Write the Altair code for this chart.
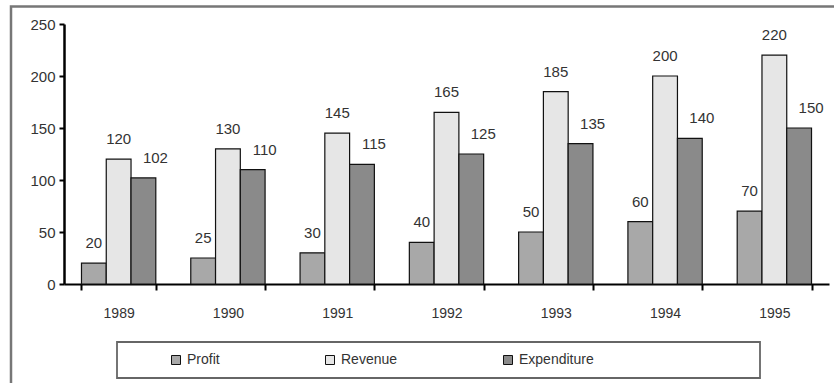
import altair as alt
import pandas as pd

years = ["1989", "1990", "1991", "1992", "1993", "1994", "1995"]
profit = [20, 25, 30, 40, 50, 60, 70]
revenue = [120, 130, 145, 165, 185, 200, 220]
expenditure = [102, 110, 115, 125, 135, 140, 150]
series = ["Profit", "Revenue", "Expenditure"]
colors = ["#a8a8a8", "#e6e6e6", "#8a8a8a"]
y_ticks = [0, 50, 100, 150, 200, 250]

rows = []
for i, yr in enumerate(years):
    for s, vals in zip(series, [profit, revenue, expenditure]):
        rows.append({"year": yr, "series": s, "value": vals[i]})
df = pd.DataFrame(rows)

FONT = "Liberation Sans"
TXT = "#333333"

x = alt.X(
    "year:N",
    sort=years,
    scale=alt.Scale(paddingInner=0.32, paddingOuter=0.16),
    axis=alt.Axis(
        title=None, labelAngle=0, tickBand="extent", tickSize=6, tickWidth=2,
        tickColor="black", domainColor="black", domainWidth=2,
        labelPadding=16, labelFont=FONT, labelFontSize=14, labelColor=TXT,
    ),
)
xo = alt.XOffset("series:N", sort=series, scale=alt.Scale(paddingInner=0, paddingOuter=0))
y = alt.Y(
    "value:Q",
    scale=alt.Scale(domain=[0, 250], nice=False),
    axis=alt.Axis(
        title=None, values=y_ticks, grid=False, tickSize=5, tickWidth=2,
        tickColor="black", domainColor="black", domainWidth=2.5,
        labelPadding=4, labelFont=FONT, labelFontSize=15, labelColor=TXT,
    ),
)
color = alt.Color(
    "series:N",
    sort=series,
    scale=alt.Scale(domain=series, range=colors),
    legend=alt.Legend(
        title=None, orient="none", legendX=105, legendY=329,
        direction="horizontal", columns=3, columnPadding=103,
        symbolType="square", symbolSize=81, symbolStrokeColor="#111",
        symbolStrokeWidth=1, labelFont=FONT, labelFontSize=14,
        labelColor=TXT, labelOffset=4,
    ),
)

base = alt.Chart(df)

bars = base.mark_bar(stroke="#111111", strokeWidth=1.2).encode(
    x=x, xOffset=xo, y=y, color=color
)

text_pr = base.transform_filter(
    alt.FieldOneOfPredicate(field="series", oneOf=["Profit", "Revenue"])
).mark_text(dy=-15, baseline="alphabetic", fontSize=15, font=FONT, color=TXT).encode(
    x=x, xOffset=xo, y=y, text="value:Q"
)
text_ex = base.transform_filter(
    alt.FieldEqualPredicate(field="series", equal="Expenditure")
).mark_text(dx=12, dy=-15, baseline="alphabetic", fontSize=15, font=FONT, color=TXT).encode(
    x=x, xOffset=xo, y=y, text="value:Q"
)

frame_df = pd.DataFrame({"k": [0]})
outer = alt.Chart(frame_df).mark_rect(filled=False, stroke="#777777", strokeWidth=2.5).encode(
    x=alt.value(-53), x2=alt.value(780), y=alt.value(-17.5), y2=alt.value(369)
)
legend_box = alt.Chart(frame_df).mark_rect(filled=False, stroke="#666666", strokeWidth=1.8).encode(
    x=alt.value(53), x2=alt.value(696), y=alt.value(318), y2=alt.value(354)
)

chart = alt.layer(outer, legend_box, bars, text_pr, text_ex).properties(
    width=765,
    height=260,
    autosize=alt.AutoSizeParams(type="none"),
    padding={"left": 64, "top": 24, "right": 5, "bottom": 99},
    background="white",
).configure_view(stroke=None)

chart.save("out.html", embed_options={"renderer": "svg", "actions": False})
